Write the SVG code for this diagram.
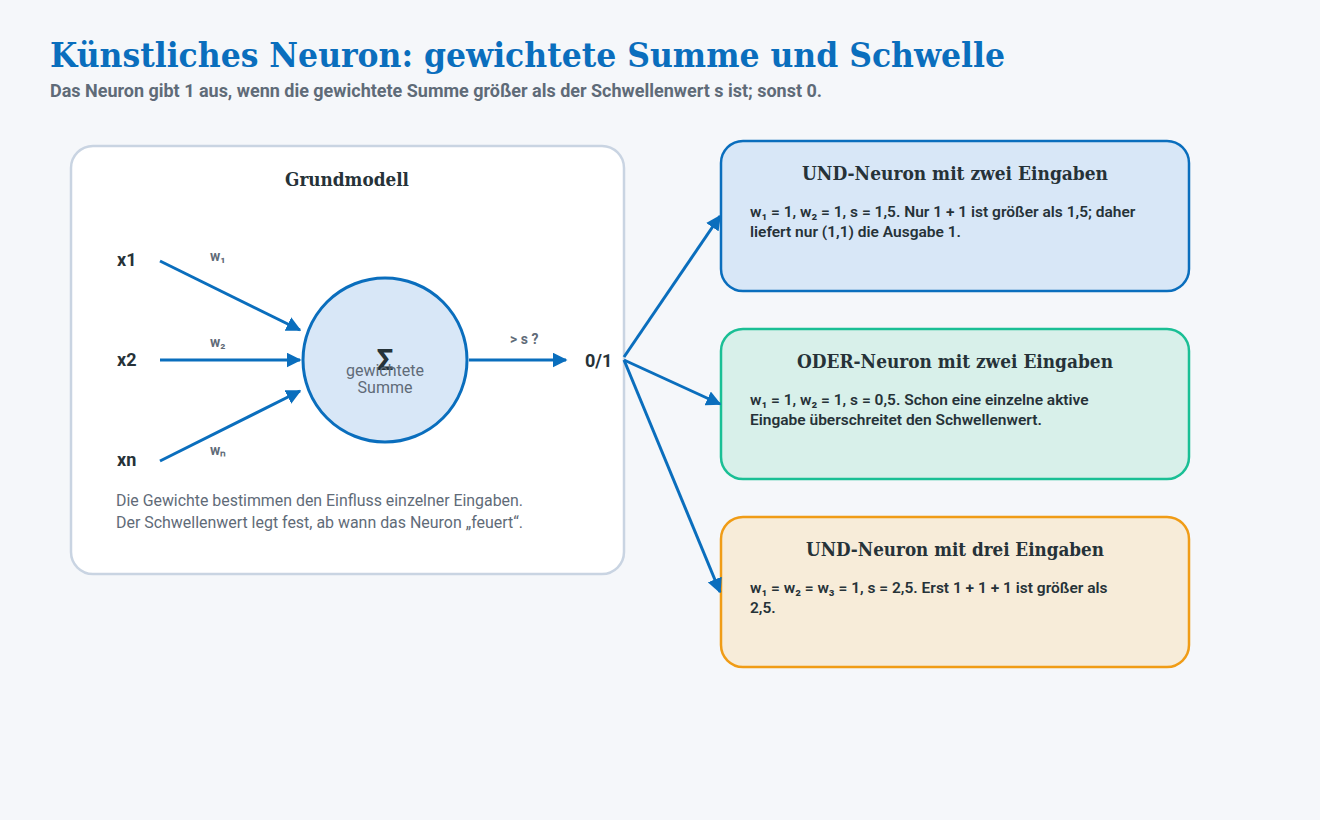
<svg xmlns="http://www.w3.org/2000/svg" width="1320" height="820" viewBox="0 0 1320 820">
<defs>
<marker id="ah" viewBox="0 0 10 10" refX="9" refY="5" markerWidth="5" markerHeight="5" orient="auto-start-reverse" markerUnits="strokeWidth"><path d="M0,0 L10,5 L0,10 z" fill="#0a6ebd"/></marker>
<style>
.t{font-family:"DejaVu Serif","Liberation Serif",serif;font-weight:bold}
.s{font-family:Roboto,"Liberation Sans",sans-serif}
.c{stroke:#0a6ebd;stroke-width:3;fill:none;marker-end:url(#ah)}
.h{font-family:"DejaVu Serif","Liberation Serif",serif;font-weight:bold;font-size:18px;fill:#263238;text-anchor:middle}
.b{font-family:Roboto,"Liberation Sans",sans-serif;font-weight:600;font-size:15.5px;fill:#263238}
.lbl{font-family:Roboto,"Liberation Sans",sans-serif;font-weight:bold;font-size:18px;fill:#263238}
.w{font-family:Roboto,"Liberation Sans",sans-serif;font-weight:bold;font-size:14px;fill:#5f6b78}
</style>
</defs>
<rect width="1320" height="820" fill="#f5f7fa"/>
<text x="50" y="67" class="t" font-size="33" fill="#0a6ebd" textLength="955" lengthAdjust="spacingAndGlyphs">Künstliches Neuron: gewichtete Summe und Schwelle</text>
<text x="50" y="97" class="s" font-size="18" font-weight="bold" fill="#5f6b78" textLength="772" lengthAdjust="spacingAndGlyphs">Das Neuron gibt 1 aus, wenn die gewichtete Summe größer als der Schwellenwert s ist; sonst 0.</text>
<g id="grundmodell">
<rect x="71" y="146" width="553" height="428" rx="22" fill="#fff" stroke="#c9d4e2" stroke-width="2.5"/>
<text x="347" y="186" class="h" textLength="124" lengthAdjust="spacingAndGlyphs">Grundmodell</text>
<text x="117" y="266" class="lbl">x1</text>
<text x="117" y="366" class="lbl">x2</text>
<text x="117" y="466" class="lbl">xn</text>
<text x="210" y="261" class="w">w₁</text>
<text x="210" y="347" class="w">w₂</text>
<text x="210" y="455" class="w">wₙ</text>
<text x="510" y="344" class="w">&gt; s ?</text>
<text x="585" y="367" class="lbl">0/1</text>
<text x="116" y="506" class="s" font-size="16" fill="#5f6b78" textLength="407" lengthAdjust="spacingAndGlyphs">Die Gewichte bestimmen den Einfluss einzelner Eingaben.</text>
<text x="116" y="528" class="s" font-size="16" fill="#5f6b78" textLength="407" lengthAdjust="spacingAndGlyphs">Der Schwellenwert legt fest, ab wann das Neuron „feuert“.</text>
</g>
<g id="sum">
<circle cx="385" cy="360" r="82" fill="#d8e7f7" stroke="#0a6ebd" stroke-width="3"/>
<text x="385" y="370" class="s" font-size="30" font-weight="bold" fill="#263238" text-anchor="middle">Σ</text>
<text x="385" y="376" class="s" font-size="16" fill="#5f6b78" text-anchor="middle">gewichtete</text>
<text x="385" y="393" class="s" font-size="16" fill="#5f6b78" text-anchor="middle">Summe</text>
</g>
<g id="und2">
<rect x="721" y="141" width="468" height="150" rx="22" fill="#d8e7f7" stroke="#0a6ebd" stroke-width="2.5"/>
<text x="955" y="180" class="h" textLength="306" lengthAdjust="spacingAndGlyphs">UND-Neuron mit zwei Eingaben</text>
<text x="750" y="217" class="b">w₁ = 1, w₂ = 1, s = 1,5. Nur 1 + 1 ist größer als 1,5; daher</text>
<text x="750" y="237" class="b">liefert nur (1,1) die Ausgabe 1.</text>
</g>
<g id="oder2">
<rect x="721" y="329" width="468" height="150" rx="22" fill="#d8f0ea" stroke="#1abf95" stroke-width="2.5"/>
<text x="955" y="368" class="h" textLength="316" lengthAdjust="spacingAndGlyphs">ODER-Neuron mit zwei Eingaben</text>
<text x="750" y="405" class="b">w₁ = 1, w₂ = 1, s = 0,5. Schon eine einzelne aktive</text>
<text x="750" y="425" class="b">Eingabe überschreitet den Schwellenwert.</text>
</g>
<g id="und3">
<rect x="721" y="517" width="468" height="150" rx="22" fill="#f7ecd9" stroke="#f09c16" stroke-width="2.5"/>
<text x="955" y="556" class="h" textLength="298" lengthAdjust="spacingAndGlyphs">UND-Neuron mit drei Eingaben</text>
<text x="750" y="593" class="b">w₁ = w₂ = w₃ = 1, s = 2,5. Erst 1 + 1 + 1 ist größer als</text>
<text x="750" y="613" class="b">2,5.</text>
</g>
<g id="connectors">
<path class="c" d="M160,261 L300,330"/>
<path class="c" d="M160,360 L300,360"/>
<path class="c" d="M160,461 L300,391"/>
<path class="c" d="M469,360 L566,360"/>
<path class="c" d="M624,357 L720,216"/>
<path class="c" d="M624,360 L720,404"/>
<path class="c" d="M624,360 L720,592"/>
</g>
</svg>
